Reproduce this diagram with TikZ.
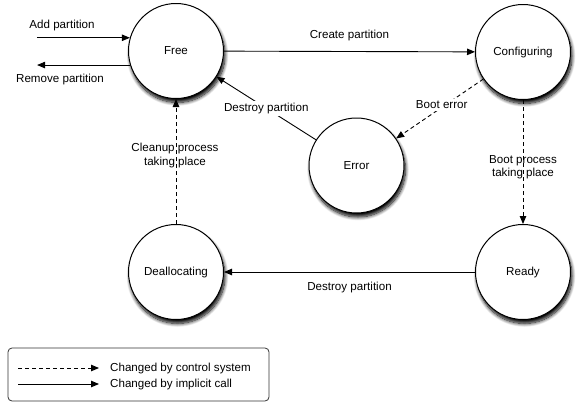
\documentclass[tikz,border=0pt]{standalone}
\usepackage{fontspec}
\setmainfont{Liberation Sans}
\usetikzlibrary{arrows.meta,shadows.blur}
\begin{document}
\begin{tikzpicture}[x=1pt,y=-1pt,
  every node/.style={font=\fontsize{11.6}{13.5}\selectfont},
  state/.style={circle, draw, line width=1pt, fill=white, minimum size=95pt, inner sep=0pt,
    blur shadow={shadow xshift=1.5pt, shadow yshift=-4pt, shadow blur radius=3.5pt, shadow blur steps=10, shadow opacity=100}},
  conn/.style={line width=0.9pt, -{Triangle[length=8pt,width=6.5pt]}},
  ctrl/.style={conn, dash pattern=on 4pt off 3pt},
  lbl/.style={align=center, inner sep=1pt},
  cutlbl/.style={lbl, fill=white, inner sep=2pt}]
\useasboundingbox (0,0) rectangle (576,402);

% states
\node[state] (free)    at (176,51)    {Free};
\node[state] (conf)    at (523,52)    {Configuring};
\node[state] (err)     at (356.5,165.5) {Error};
\node[state] (dealloc) at (176,272)   {Deallocating};
\node[state] (ready)   at (523,272)   {Ready};

% external entry / exit
\coordinate (addL) at ([xshift=-93pt]free.164);
\coordinate (remL) at ([xshift=-93pt]free.197);
\draw[conn] (addL) -- (free.164);
\draw[conn] (free.197) -- (remL);
\node[lbl] (addlbl) at (62,25) {Add partition};
\node[lbl] (remlbl) at (60,79) {Remove partition};

% transitions
\draw[conn] (free) -- node[lbl, midway, yshift=16pt] {Create partition} (conf);
\draw[ctrl] (conf) -- node[cutlbl, midway, xshift=2pt, yshift=4pt] {Boot error} (err);
\draw[conn] (err) -- node[cutlbl, midway] {Destroy partition} (free);
\draw[ctrl] (conf) -- node[lbl, midway, yshift=-5pt] {Boot process\\taking place} (ready);
\draw[conn] (ready) -- node[lbl, midway, yshift=-15pt] {Destroy partition} (dealloc);
\draw[ctrl] (dealloc) -- node[lbl, pos=0.55, xshift=-1pt] {Cleanup process\\taking place} (free);

% legend
\node[draw=black!80, line width=0.8pt, rounded corners=4pt, minimum width=261pt, minimum height=53pt, inner sep=0pt] (legend) at (138.5,374.5) {};
\coordinate (k1a) at (18,368);
\coordinate (k1b) at (99,368);
\coordinate (k2a) at (18,384);
\coordinate (k2b) at (99,384);
\draw[ctrl] (k1a) -- (k1b);
\draw[conn] (k2a) -- (k2b);
\node[lbl, anchor=west] (k1t) at (109,368) {Changed by control system};
\node[lbl, anchor=west] (k2t) at (109,384) {Changed by implicit call};
\end{tikzpicture}
\end{document}
